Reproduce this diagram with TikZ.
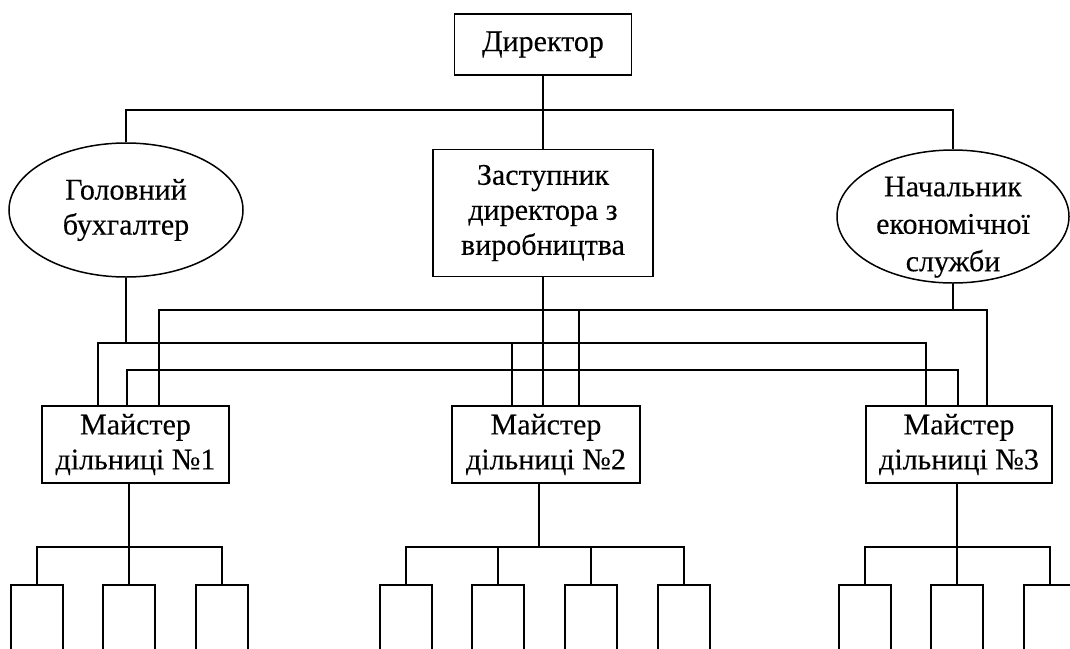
\documentclass[tikz,border=0pt]{standalone}
\usepackage{fontspec}
\setmainfont{Liberation Serif}
\newfontfamily\tnr{Liberation Serif}[FakeBold=0.25]
\usetikzlibrary{shapes.geometric}
\begin{document}
\begin{tikzpicture}[x=1pt,y=-1pt,line width=1.5pt,
  box/.style={draw,rectangle,inner sep=0pt,align=center,font=\tnr\fontsize{30}{35}\selectfont},
  oval/.style={draw,ellipse,inner sep=0pt,align=center,font=\tnr\fontsize{30}{35}\selectfont},
  leaf/.style={draw,rectangle,inner sep=0pt,minimum width=52pt,minimum height=110pt,anchor=north}]
\path[use as bounding box] (0,0) rectangle (1070,648);
\clip (0,0) rectangle (1070,648);
% nodes
\node[box,minimum width=177pt,minimum height=61pt] (dir) at (543,44.5) {Директор};
\node[box,minimum width=220pt,minimum height=127pt] (dep) at (543,213) {Заступник\\директора з\\виробництва};
\node[oval,minimum width=234pt,minimum height=134pt] (acc) at (126,210) {Головний\\бухгалтер};
\node[oval,minimum width=232pt,minimum height=133pt] (eco) at (953,216.5)
  {\raisebox{-16pt}[25pt][25pt]{\def\arraystretch{1.07}\begin{tabular}{@{}c@{}}Начальник\\економічної\\служби\end{tabular}}};
\node[box,minimum width=187pt,minimum height=77pt] (m1) at (135.5,444.5) {Майстер\\дільниці №1};
\node[box,minimum width=188pt,minimum height=77pt] (m2) at (546,444.5) {Майстер\\дільниці №2};
\node[box,minimum width=186pt,minimum height=77pt] (m3) at (959,444.5) {Майстер\\дільниці №3};
% leaves
\node[leaf] (a1) at (37,584) {};
\node[leaf] (a2) at (129,584) {};
\node[leaf] (a3) at (222,584) {};
\node[leaf] (b1) at (406,584) {};
\node[leaf] (b2) at (498,584) {};
\node[leaf] (b3) at (591,584) {};
\node[leaf] (b4) at (684,584) {};
\node[leaf] (c1) at (865,584) {};
\node[leaf] (c2) at (957,584) {};
\node[leaf] (c3) at (1050,584) {};
% top connectors
\draw (dir.south) -- (dep.north);
\draw (acc.north) -- (acc.north |- 0,110) -- (eco.north |- 0,110) -- (eco.north);
% line A (economic service)
\draw (eco.south) -- (eco.south |- 0,310);
\draw (m1.north -| 159,0) -- (159,310) -- (987,310) -- (m3.north -| 987,0);
\draw (579,310) -- (m2.north -| 579,0);
% line B (chief accountant)
\draw (acc.south) -- (acc.south |- 0,343);
\draw (m1.north -| 98,0) -- (98,343) -- (926,343) -- (m3.north -| 926,0);
\draw (512,343) -- (m2.north -| 512,0);
% line C (deputy)
\draw (dep.south) -- (m2.north -| dep.south);
\draw (m1.north -| 127,0) -- (127,370) -- (958,370) -- (m3.north -| 958,0);
% bottom groups
\draw (m1.south -| a2.north) -- (a2.north);
\draw (a1.north) -- (a1.north |- 0,547) -- (a3.north |- 0,547) -- (a3.north);
\draw (m2.south -| 539,0) -- (539,547);
\draw (b1.north) -- (b1.north |- 0,547) -- (b4.north |- 0,547) -- (b4.north);
\draw (b2.north) -- (b2.north |- 0,547);
\draw (b3.north) -- (b3.north |- 0,547);
\draw (m3.south -| c2.north) -- (c2.north);
\draw (c1.north) -- (c1.north |- 0,547) -- (c3.north |- 0,547) -- (c3.north);
\end{tikzpicture}
\end{document}
